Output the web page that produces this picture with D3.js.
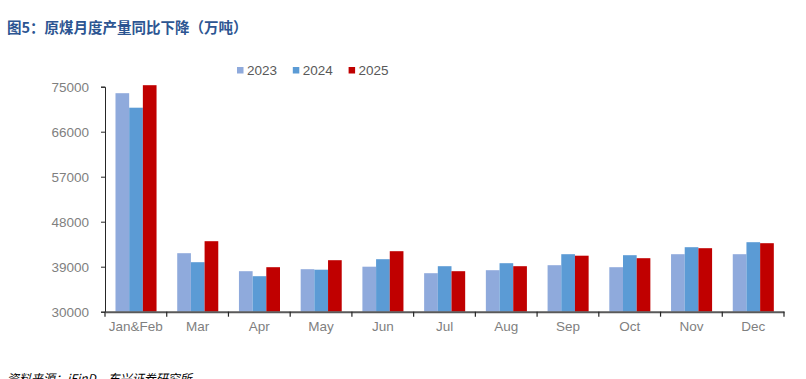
<!DOCTYPE html>
<html>
<head>
<meta charset="UTF-8">
<title>原煤月度产量</title>
<script src="https://d3js.org/d3.v7.min.js"></script>
<style>
    body { margin: 0; background: #ffffff; }
    svg { display: block; font-family: "Liberation Sans", Arial, sans-serif; }
</style>
</head>
<body>
<svg width="806" height="379" id="mainsvg"></svg>
<script>
    // data (万吨)
    const months = ["Jan&Feb", "Mar", "Apr", "May", "Jun", "Jul", "Aug", "Sep", "Oct", "Nov", "Dec"];
    const years = ["2023", "2024", "2025"];
    const v2023 = [73700, 41700, 38100, 38500, 39000, 37700, 38300, 39300, 38900, 41500, 41500];
    const v2024 = [70800, 39900, 37100, 38400, 40500, 39100, 39700, 41500, 41300, 42900, 43900];
    const v2025 = [75300, 44100, 38900, 40300, 42100, 38100, 39100, 41200, 40700, 42700, 43700];
    const yTicks = [30000, 39000, 48000, 57000, 66000, 75000];
    const colors = {"2023": "#8faadc", "2024": "#5b9bd5", "2025": "#c00000"};

    const svg = d3.select('#mainsvg');
    const margin = {top: 86.7, left: 105, right: 22, bottom: 67.3};
    const innerWidth = +svg.attr('width') - margin.left - margin.right;
    const innerHeight = +svg.attr('height') - margin.top - margin.bottom;

    const series = {"2023": v2023, "2024": v2024, "2025": v2025};
    const rows = months.map((m, i) => ({month: m, vals: years.map(y => ({year: y, value: series[y][i]}))}));

    // title
    svg.append('text')
        .attr('x', 7).attr('y', 33)
        .attr('font-family', '"Noto Sans CJK SC", sans-serif')
        .attr('font-size', 14.5).attr('font-weight', 'bold')
        .attr('fill', '#2c5592')
        .text('图5：原煤月度产量同比下降（万吨）');

    const g = svg.append('g').attr('transform', `translate(${margin.left}, ${margin.top})`);

    const xScale = d3.scaleBand().domain(months).range([0, innerWidth]).padding(0);
    const bw = xScale.bandwidth();
    const xSub = d3.scaleBand().domain(years).range([bw * 0.17, bw * 0.835]).padding(0);
    const yScale = d3.scaleLinear().domain([30000, 75000]).range([innerHeight, 0]);

    // bars
    const groups = g.selectAll('.grp').data(rows).join('g')
        .attr('class', 'grp')
        .attr('transform', d => `translate(${xScale(d.month)}, 0)`);
    groups.selectAll('rect').data(d => d.vals).join('rect')
        .attr('x', d => xSub(d.year))
        .attr('width', xSub.bandwidth())
        .attr('y', d => yScale(d.value))
        .attr('height', d => innerHeight - yScale(d.value))
        .attr('fill', d => colors[d.year]);

    // y axis
    const yAxis = d3.axisLeft(yScale).tickValues(yTicks).tickFormat(d3.format('d')).tickSize(4).tickPadding(12);
    const yG = g.append('g').call(yAxis);
    yG.select('.domain').attr('stroke', '#262626');
    yG.selectAll('.tick line').attr('stroke', '#262626');
    yG.selectAll('.tick text').attr('font-size', 13.5).attr('fill', '#7f7f7f');

    // x axis with ticks at category boundaries
    const xAxis = d3.axisBottom(xScale).tickSize(0).tickPadding(10);
    const xG = g.append('g').attr('transform', `translate(0, ${innerHeight})`).call(xAxis);
    xG.select('.domain').attr('stroke', '#595959').attr('stroke-width', 2);
    xG.selectAll('.tick text').attr('font-size', 13.5).attr('fill', '#7f7f7f');
    g.append('g').selectAll('line')
        .data(months.concat(['end']))
        .join('line')
        .attr('x1', (d, i) => i * bw).attr('x2', (d, i) => i * bw)
        .attr('y1', innerHeight).attr('y2', innerHeight + 5)
        .attr('stroke', '#262626').attr('stroke-width', 1.2);

    // legend
    const legend = svg.append('g').attr('transform', 'translate(237, 64)');
    const item = legend.selectAll('g').data(years).join('g')
        .attr('transform', (d, i) => `translate(${i * 55.8}, 0)`);
    item.append('rect').attr('width', 6.5).attr('height', 6.5).attr('y', 3).attr('fill', d => colors[d]);
    item.append('text').attr('x', 10).attr('y', 11).attr('font-size', 13.5).attr('fill', '#595959').text(d => d);

    // source (cut by the bottom edge, as in the original)
    svg.append('text')
        .attr('x', 7).attr('y', 383)
        .attr('font-family', '"Noto Sans CJK SC", sans-serif')
        .attr('font-size', 12).attr('font-style', 'italic')
        .attr('fill', '#000000')
        .text('资料来源：iFinD，东兴证券研究所');
</script>
</body>
</html>
